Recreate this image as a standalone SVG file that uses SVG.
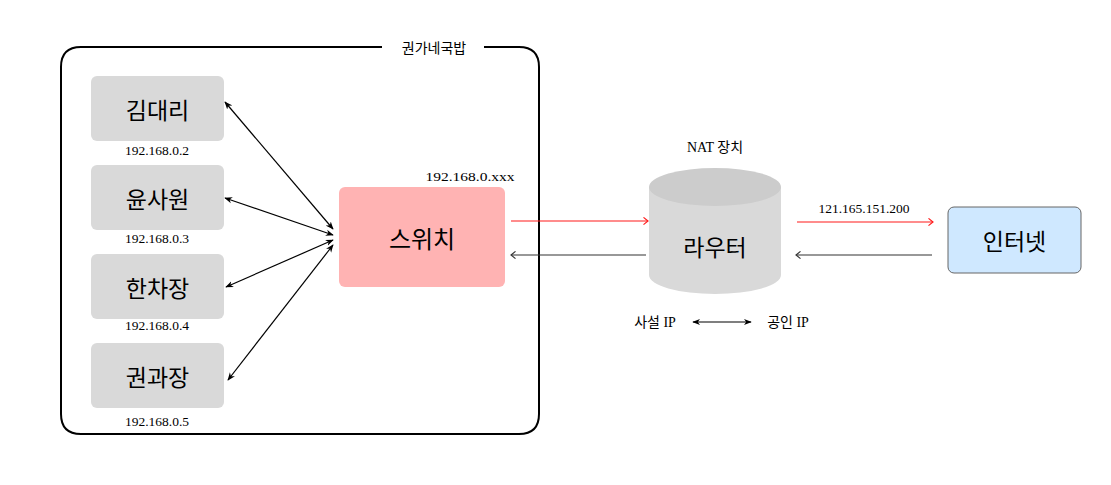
<svg xmlns="http://www.w3.org/2000/svg" width="1111" height="485" viewBox="0 0 1111 485">
<defs>
<style>
.node{font-family:"Noto Sans CJK KR","Noto Sans",sans-serif;font-size:23px;fill:#000;text-anchor:middle;dominant-baseline:central}
.ip{font-family:"Liberation Serif","Noto Sans CJK KR",serif;font-size:13.5px;fill:#000;text-anchor:middle;dominant-baseline:central}
.lbl{font-family:"Liberation Serif","Noto Sans CJK KR",serif;font-size:14px;fill:#000;text-anchor:middle;dominant-baseline:central}
.pc{fill:#d9d9d9}
.blk{stroke:#000;stroke-width:1.2;fill:none}
.red{stroke:#ff1a1a;stroke-width:1.2;fill:none}
.dk{stroke:#333;stroke-width:1.2;fill:none}
</style>
<marker id="fa" viewBox="0 0 10 10" refX="9" refY="5" markerWidth="8" markerHeight="8" orient="auto-start-reverse" markerUnits="userSpaceOnUse">
<path d="M0,1 L10,5 L0,9 L3,5 Z" fill="#000"/>
</marker>
<marker id="or" viewBox="0 0 10 10" refX="9" refY="5" markerWidth="9" markerHeight="9" orient="auto" markerUnits="userSpaceOnUse">
<path d="M4,1 L9,5 L4,9" fill="none" stroke="#ff1a1a" stroke-width="1.3"/>
</marker>
<marker id="ok" viewBox="0 0 10 10" refX="9" refY="5" markerWidth="9" markerHeight="9" orient="auto" markerUnits="userSpaceOnUse">
<path d="M4,1 L9,5 L4,9" fill="none" stroke="#333" stroke-width="1.3"/>
</marker>
</defs>
<rect width="1111" height="485" fill="#fff"/>

<g id="container">
<path d="M382,47 H81 Q61,47 61,67 V414 Q61,434 81,434 H519 Q539,434 539,414 V67 Q539,47 519,47 H484" fill="none" stroke="#000" stroke-width="2"/>
<text x="434" y="47" style="font-family:'Noto Sans CJK KR',sans-serif;font-size:14px;text-anchor:middle;dominant-baseline:central">권가네국밥</text>
</g>

<g id="n1">
<rect class="pc" x="91" y="76" width="133" height="65" rx="6"/>
<text class="node" x="157.5" y="108.5">김대리</text>
<text class="ip" x="157" y="150">192.168.0.2</text>
</g>
<g id="n2">
<rect class="pc" x="91" y="165" width="133" height="65" rx="6"/>
<text class="node" x="157.5" y="197.5">윤사원</text>
<text class="ip" x="157" y="238">192.168.0.3</text>
</g>
<g id="n3">
<rect class="pc" x="91" y="254" width="133" height="65" rx="6"/>
<text class="node" x="157.5" y="286.5">한차장</text>
<text class="ip" x="157" y="325">192.168.0.4</text>
</g>
<g id="n4">
<rect class="pc" x="91" y="343" width="133" height="65" rx="6"/>
<text class="node" x="157.5" y="375.5">권과장</text>
<text class="ip" x="157" y="421">192.168.0.5</text>
</g>

<g id="switch">
<rect x="339" y="187" width="166" height="100" rx="6" fill="#ffb3b3"/>
<text class="node" x="422" y="237" style="font-size:24px">스위치</text>
<text class="ip" x="470" y="176" textLength="89" lengthAdjust="spacingAndGlyphs">192.168.0.xxx</text>
</g>

<g id="router">
<path d="M649,187 V275 A66,19 0 0 0 781,275 V187 Z" fill="#d9d9d9"/>
<ellipse cx="715" cy="187" rx="66" ry="19" fill="#cccccc"/>
<text class="node" x="715" y="246">라우터</text>
<text class="lbl" x="715" y="147">NAT 장치</text>
</g>

<g id="internet">
<rect x="948" y="207" width="133" height="66" rx="6" fill="#cfe8ff" stroke="#666" stroke-width="1"/>
<text class="node" x="1014.5" y="240">인터넷</text>
</g>

<g id="notes">
<text class="lbl" x="655" y="322">사설 IP</text>
<text class="lbl" x="788" y="322">공인 IP</text>
<text class="ip" x="864" y="208">121.165.151.200</text>
</g>

<g id="connectors">
<line class="blk" x1="225" y1="102" x2="333" y2="229" marker-start="url(#fa)" marker-end="url(#fa)"/>
<line class="blk" x1="225" y1="198" x2="333" y2="235" marker-start="url(#fa)" marker-end="url(#fa)"/>
<line class="blk" x1="226" y1="287" x2="333" y2="240" marker-start="url(#fa)" marker-end="url(#fa)"/>
<line class="blk" x1="228" y1="380" x2="333" y2="245" marker-start="url(#fa)" marker-end="url(#fa)"/>
<line class="red" x1="511" y1="221" x2="648" y2="221" marker-end="url(#or)"/>
<line class="dk" x1="646" y1="255" x2="511" y2="255" marker-end="url(#ok)"/>
<line class="red" x1="797" y1="222" x2="933" y2="222" marker-end="url(#or)"/>
<line class="dk" x1="932" y1="255" x2="796" y2="255" marker-end="url(#ok)"/>
<line class="blk" x1="693" y1="322" x2="751" y2="322" marker-start="url(#fa)" marker-end="url(#fa)"/>
</g>
</svg>
